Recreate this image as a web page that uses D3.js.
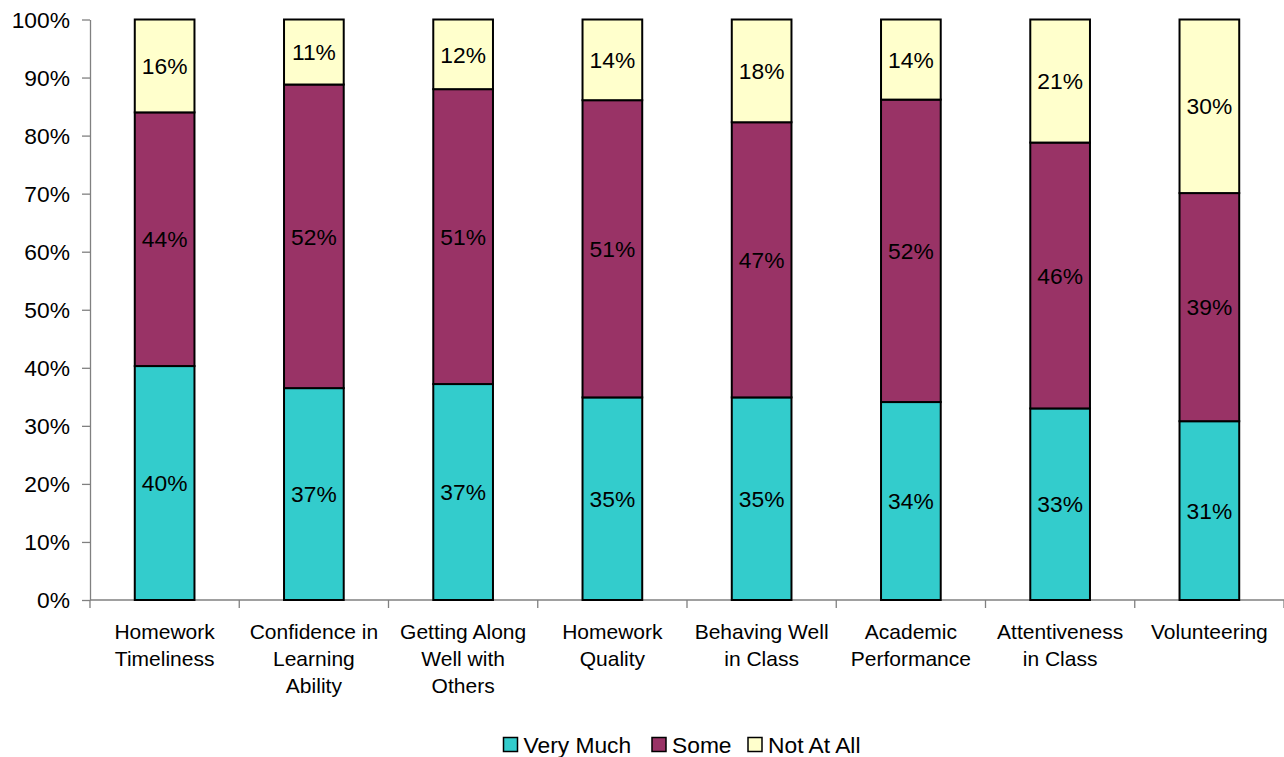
<!DOCTYPE html>
<html><head><meta charset="utf-8">
<script src="https://cdn.jsdelivr.net/npm/d3@7"></script>
<style>body{margin:0;background:#fff}svg{display:block}text{font-family:"Liberation Sans",Arial,sans-serif;fill:#000}</style>
</head><body><svg id="c" width="1284" height="757"></svg>
<script>
const categories = [["Homework","Timeliness"],["Confidence in","Learning","Ability"],["Getting Along","Well with","Others"],["Homework","Quality"],["Behaving Well","in Class"],["Academic","Performance"],["Attentiveness","in Class"],["Volunteering"]];
const seriesNames = ["Very Much","Some","Not At All"];
const veryMuch = [40.3,36.5,37.2,34.9,34.9,34.1,33.0,30.8];
const some = [43.7,52.3,50.8,51.2,47.4,52.1,45.8,39.3];
const notAtAll = [16.0,11.2,12.0,13.9,17.7,13.8,21.2,29.9];
const labelsVM = ["40%","37%","37%","35%","35%","34%","33%","31%"];
const labelsSome = ["44%","52%","51%","51%","47%","52%","46%","39%"];
const labelsNot = ["16%","11%","12%","14%","18%","14%","21%","30%"];
const yTicks = [0,10,20,30,40,50,60,70,80,90,100];
const colors = ["#33CCCC","#993366","#FFFFCC"];

const svg = d3.select("#c");
const L=90, R=1284, T=19.5, B=600;
const x = d3.scaleBand().domain(d3.range(8)).range([L,R]).paddingInner(0.6).paddingOuter(0.3);
const xb = d3.scaleBand().domain(d3.range(8)).range([L,R]);
const y = d3.scaleLinear().domain([0,100]).range([B,T]);

const rows = d3.range(8).map(i=>({i, "Very Much":veryMuch[i], "Some":some[i], "Not At All":notAtAll[i]}));
const stack = d3.stack().keys(seriesNames)(rows);
const labels = [labelsVM, labelsSome, labelsNot];
const numFont = 22.8;

// axes
const axisCol = "#808080";
const yAxis = svg.append("g").attr("transform",`translate(${L},0)`)
  .call(d3.axisLeft(y).tickValues(yTicks).tickFormat(d=>d+"%").tickSize(8).tickSizeOuter(0));
yAxis.select(".domain").attr("stroke",axisCol).attr("stroke-width",1.3);
yAxis.selectAll(".tick line").attr("stroke",axisCol).attr("stroke-width",1.3);
yAxis.selectAll(".tick text").attr("font-size",numFont).attr("x",-20).attr("dy","0.35em").attr("font-family","Liberation Sans, Arial, sans-serif").attr("fill","#000");

const xAxis = svg.append("g").attr("transform",`translate(0,${B})`);
xAxis.append("line").attr("x1",L).attr("x2",R).attr("stroke",axisCol).attr("stroke-width",1.3);
xAxis.selectAll("line.t").data(d3.range(9)).join("line").attr("class","t")
  .attr("x1",d=>d<8?xb(d):R).attr("x2",d=>d<8?xb(d):R).attr("y1",0).attr("y2",8)
  .attr("stroke",axisCol).attr("stroke-width",1.3);

const cat = svg.append("g");
categories.forEach((lines,i)=>{
  const t = cat.append("text").attr("text-anchor","middle").attr("font-size",21)
    .attr("x",xb(i)+xb.bandwidth()/2).attr("y",639);
  lines.forEach((ln,j)=>t.append("tspan").attr("x",xb(i)+xb.bandwidth()/2).attr("dy",j?27:0).text(ln));
});

// bars
stack.forEach((s,k)=>{
  const g = svg.append("g");
  g.selectAll("rect").data(s).join("rect")
    .attr("x",d=>x(d.data.i)).attr("width",x.bandwidth())
    .attr("y",d=>y(d[1])).attr("height",d=>y(d[0])-y(d[1]))
    .attr("fill",colors[k]).attr("stroke","#000").attr("stroke-width",2);
  g.selectAll("text").data(s).join("text")
    .attr("x",d=>x(d.data.i)+x.bandwidth()/2).attr("y",d=>(y(d[0])+y(d[1]))/2)
    .attr("dy","0.36em").attr("text-anchor","middle").attr("font-size",numFont)
    .text((d,j)=>labels[k][j]);
});

// legend
const legX = [503.5,652,748];
const lg = svg.append("g");
seriesNames.forEach((n,k)=>{
  lg.append("rect").attr("x",legX[k]).attr("y",737.5).attr("width",14).attr("height",14)
    .attr("fill",colors[k]).attr("stroke","#000").attr("stroke-width",1.5);
  lg.append("text").attr("x",legX[k]+20).attr("y",752.5).attr("font-size",numFont).text(n);
});
</script></body></html>
